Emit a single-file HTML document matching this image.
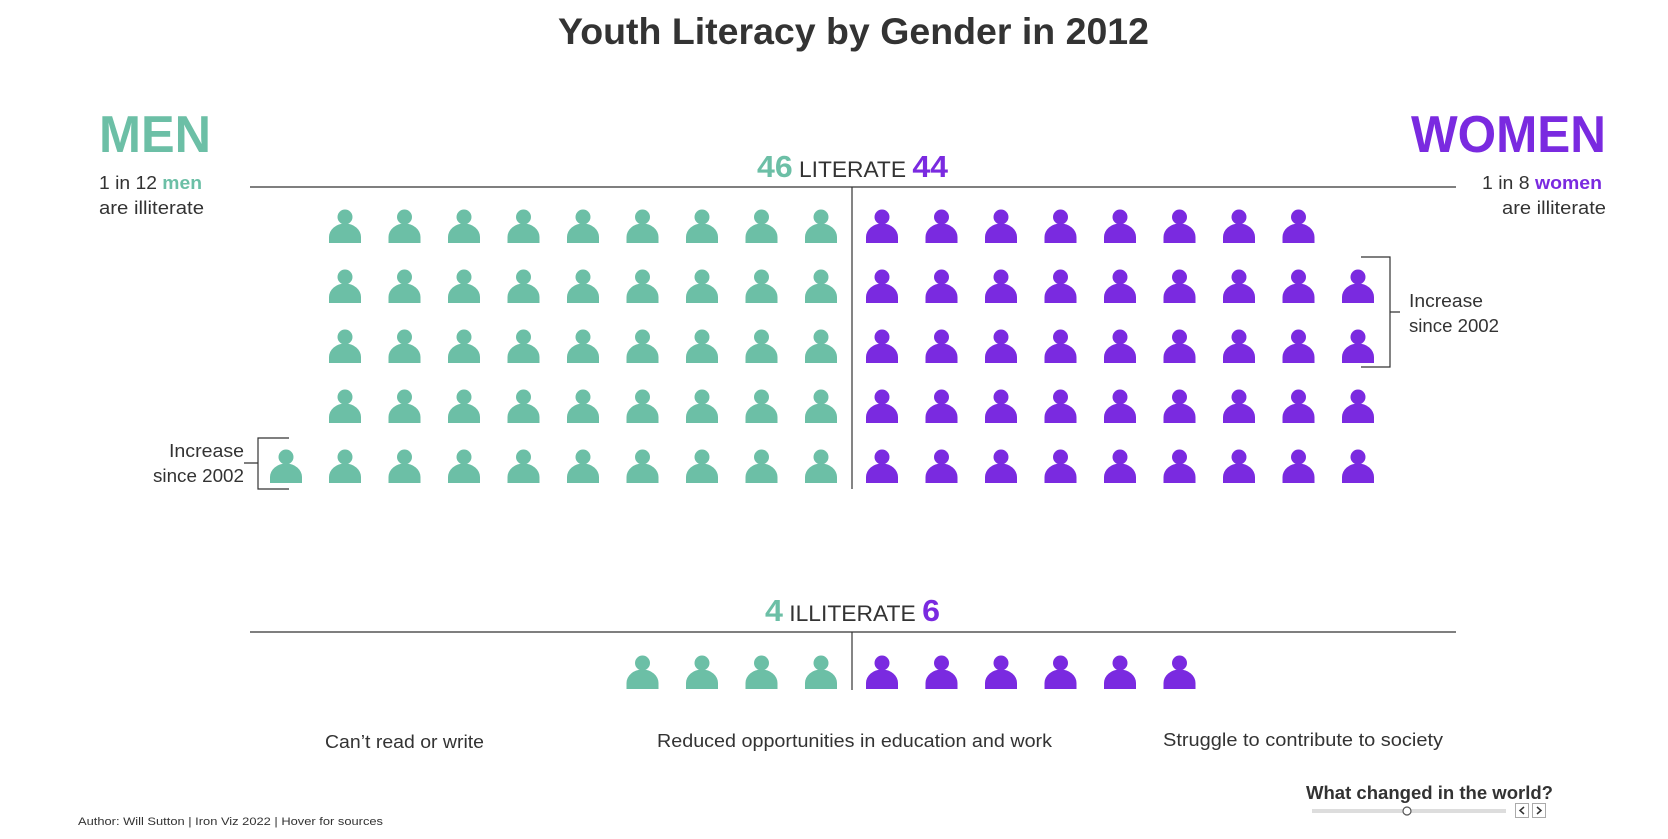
<!DOCTYPE html>
<html><head><meta charset="utf-8"><style>
html,body{margin:0;padding:0;background:#fff;}
svg{display:block;font-family:"Liberation Sans",sans-serif;}
</style></head><body>
<svg width="1668" height="839" viewBox="0 0 1668 839">
<defs>
<g id="p"><circle cx="0" cy="-9" r="7.5"/><path d="M-16,17 V11 A16,13.5 0 0 1 16,11 V17 Z"/></g>
</defs>
<text x="558" y="44" textLength="591" lengthAdjust="spacingAndGlyphs" font-size="37" font-weight="bold" fill="#333">Youth Literacy by Gender in 2012</text>
<text x="99" y="152" textLength="112" lengthAdjust="spacingAndGlyphs" font-size="52" font-weight="bold" fill="#6cbfa6">MEN</text>
<text x="1411" y="152" textLength="195" lengthAdjust="spacingAndGlyphs" font-size="52" font-weight="bold" fill="#7a2ae0">WOMEN</text>
<text x="99" y="189" textLength="103" lengthAdjust="spacingAndGlyphs" font-size="18" fill="#333">1 in 12 <tspan font-weight="bold" fill="#6cbfa6">men</tspan></text>
<text x="99" y="214" textLength="105" lengthAdjust="spacingAndGlyphs" font-size="18" fill="#333">are illiterate</text>
<text x="1482" y="189" textLength="120" lengthAdjust="spacingAndGlyphs" font-size="18" fill="#333">1 in 8 <tspan font-weight="bold" fill="#7a2ae0">women</tspan></text>
<text x="1502" y="214" textLength="104" lengthAdjust="spacingAndGlyphs" font-size="18" fill="#333">are illiterate</text>
<text x="757" y="177" textLength="191" lengthAdjust="spacingAndGlyphs" font-size="22" fill="#333"><tspan font-size="31" font-weight="bold" fill="#6cbfa6">46</tspan> LITERATE <tspan font-size="31" font-weight="bold" fill="#7a2ae0">44</tspan></text>
<line x1="250" y1="187" x2="1456" y2="187" stroke="#333" stroke-width="1.3"/>
<line x1="852" y1="187" x2="852" y2="489" stroke="#333" stroke-width="1.2"/>
<path d="M1361,257 H1390 V367 H1361 M1390,312 H1400" fill="none" stroke="#333" stroke-width="1.2"/>
<text x="1409" y="307" textLength="74" lengthAdjust="spacingAndGlyphs" font-size="18" fill="#333">Increase</text>
<text x="1409" y="332" textLength="90" lengthAdjust="spacingAndGlyphs" font-size="18" fill="#333">since 2002</text>
<path d="M289,438 H258 V489 H289 M258,463 H244" fill="none" stroke="#333" stroke-width="1.2"/>
<text x="169" y="457" textLength="75" lengthAdjust="spacingAndGlyphs" font-size="18" fill="#333">Increase</text>
<text x="153" y="482" textLength="91" lengthAdjust="spacingAndGlyphs" font-size="18" fill="#333">since 2002</text>
<text x="765" y="621" textLength="175" lengthAdjust="spacingAndGlyphs" font-size="22" fill="#333"><tspan font-size="31" font-weight="bold" fill="#6cbfa6">4</tspan> ILLITERATE <tspan font-size="31" font-weight="bold" fill="#7a2ae0">6</tspan></text>
<line x1="250" y1="632" x2="1456" y2="632" stroke="#333" stroke-width="1.3"/>
<line x1="852" y1="632" x2="852" y2="690" stroke="#333" stroke-width="1.2"/>
<text x="325" y="748" textLength="159" lengthAdjust="spacingAndGlyphs" font-size="18" fill="#333">Can’t read or write</text>
<text x="657" y="747" textLength="395" lengthAdjust="spacingAndGlyphs" font-size="18" fill="#333">Reduced opportunities in education and work</text>
<text x="1163" y="746" textLength="280" lengthAdjust="spacingAndGlyphs" font-size="18" fill="#333">Struggle to contribute to society</text>
<text x="1306" y="799" textLength="247" lengthAdjust="spacingAndGlyphs" font-size="18" font-weight="bold" fill="#333">What changed in the world?</text>
<line x1="1312" y1="811" x2="1506" y2="811" stroke="#ddd" stroke-width="4"/>
<circle cx="1407" cy="811" r="4" fill="#fff" stroke="#555" stroke-width="1.2"/>
<rect x="1515.5" y="803.5" width="13" height="14" fill="#fff" stroke="#aaa"/>
<rect x="1532.5" y="803.5" width="13" height="14" fill="#fff" stroke="#aaa"/>
<path d="M1524,807 L1520,810.5 L1524,814 M1537,807 L1541,810.5 L1537,814" fill="none" stroke="#333" stroke-width="1.5"/>
<text x="78" y="825" textLength="305" lengthAdjust="spacingAndGlyphs" font-size="11" fill="#333">Author: Will Sutton | Iron Viz 2022 | Hover for sources</text>
<g fill="#6cbfa6">
<use href="#p" x="286" y="466"/>
<use href="#p" x="345" y="226"/><use href="#p" x="404.5" y="226"/><use href="#p" x="464" y="226"/><use href="#p" x="523.5" y="226"/><use href="#p" x="583" y="226"/><use href="#p" x="642.5" y="226"/><use href="#p" x="702" y="226"/><use href="#p" x="761.5" y="226"/><use href="#p" x="821" y="226"/>
<use href="#p" x="345" y="286"/><use href="#p" x="404.5" y="286"/><use href="#p" x="464" y="286"/><use href="#p" x="523.5" y="286"/><use href="#p" x="583" y="286"/><use href="#p" x="642.5" y="286"/><use href="#p" x="702" y="286"/><use href="#p" x="761.5" y="286"/><use href="#p" x="821" y="286"/>
<use href="#p" x="345" y="346"/><use href="#p" x="404.5" y="346"/><use href="#p" x="464" y="346"/><use href="#p" x="523.5" y="346"/><use href="#p" x="583" y="346"/><use href="#p" x="642.5" y="346"/><use href="#p" x="702" y="346"/><use href="#p" x="761.5" y="346"/><use href="#p" x="821" y="346"/>
<use href="#p" x="345" y="406"/><use href="#p" x="404.5" y="406"/><use href="#p" x="464" y="406"/><use href="#p" x="523.5" y="406"/><use href="#p" x="583" y="406"/><use href="#p" x="642.5" y="406"/><use href="#p" x="702" y="406"/><use href="#p" x="761.5" y="406"/><use href="#p" x="821" y="406"/>
<use href="#p" x="345" y="466"/><use href="#p" x="404.5" y="466"/><use href="#p" x="464" y="466"/><use href="#p" x="523.5" y="466"/><use href="#p" x="583" y="466"/><use href="#p" x="642.5" y="466"/><use href="#p" x="702" y="466"/><use href="#p" x="761.5" y="466"/><use href="#p" x="821" y="466"/>
<use href="#p" x="642.5" y="672"/><use href="#p" x="702" y="672"/><use href="#p" x="761.5" y="672"/><use href="#p" x="821" y="672"/>
</g>
<g fill="#7a2ae0">
<use href="#p" x="882" y="226"/><use href="#p" x="941.5" y="226"/><use href="#p" x="1001" y="226"/><use href="#p" x="1060.5" y="226"/><use href="#p" x="1120" y="226"/><use href="#p" x="1179.5" y="226"/><use href="#p" x="1239" y="226"/><use href="#p" x="1298.5" y="226"/>
<use href="#p" x="882" y="286"/><use href="#p" x="941.5" y="286"/><use href="#p" x="1001" y="286"/><use href="#p" x="1060.5" y="286"/><use href="#p" x="1120" y="286"/><use href="#p" x="1179.5" y="286"/><use href="#p" x="1239" y="286"/><use href="#p" x="1298.5" y="286"/><use href="#p" x="1358" y="286"/>
<use href="#p" x="882" y="346"/><use href="#p" x="941.5" y="346"/><use href="#p" x="1001" y="346"/><use href="#p" x="1060.5" y="346"/><use href="#p" x="1120" y="346"/><use href="#p" x="1179.5" y="346"/><use href="#p" x="1239" y="346"/><use href="#p" x="1298.5" y="346"/><use href="#p" x="1358" y="346"/>
<use href="#p" x="882" y="406"/><use href="#p" x="941.5" y="406"/><use href="#p" x="1001" y="406"/><use href="#p" x="1060.5" y="406"/><use href="#p" x="1120" y="406"/><use href="#p" x="1179.5" y="406"/><use href="#p" x="1239" y="406"/><use href="#p" x="1298.5" y="406"/><use href="#p" x="1358" y="406"/>
<use href="#p" x="882" y="466"/><use href="#p" x="941.5" y="466"/><use href="#p" x="1001" y="466"/><use href="#p" x="1060.5" y="466"/><use href="#p" x="1120" y="466"/><use href="#p" x="1179.5" y="466"/><use href="#p" x="1239" y="466"/><use href="#p" x="1298.5" y="466"/><use href="#p" x="1358" y="466"/>
<use href="#p" x="882" y="672"/><use href="#p" x="941.5" y="672"/><use href="#p" x="1001" y="672"/><use href="#p" x="1060.5" y="672"/><use href="#p" x="1120" y="672"/><use href="#p" x="1179.5" y="672"/>
</g>
</svg>
</body></html>
